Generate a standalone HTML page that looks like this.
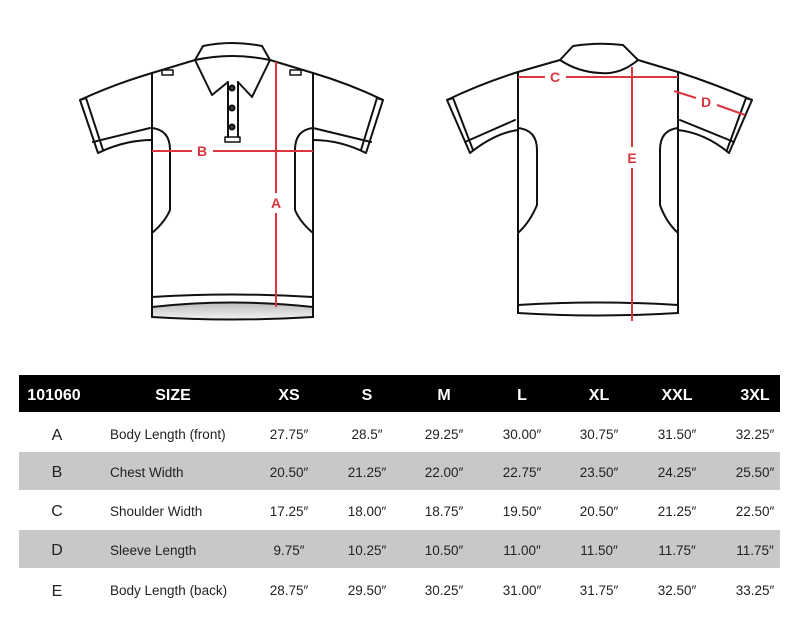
<!DOCTYPE html>
<html><head><style>
html,body{margin:0;padding:0;background:#fff;}
body{width:812px;height:636px;position:relative;overflow:hidden;font-family:"Liberation Sans",sans-serif;}
svg{position:absolute;left:0;top:0;}
</style></head><body>
<svg width="812" height="636" viewBox="0 0 812 636">
<defs><linearGradient id="g" x1="0" y1="0" x2="0" y2="1"><stop offset="0" stop-color="#bbb"/><stop offset="1" stop-color="#f4f4f4"/></linearGradient></defs>
<g fill="none" stroke="#111" stroke-width="2" stroke-linejoin="round" stroke-linecap="round">
<!-- FRONT -->
<path d="M152,307 Q232,298 313,307 L313,317 Q232,322 152,317 Z" fill="url(#g)"/>
<path d="M152,297 Q232,292 313,297"/>
<path d="M195,60 L152,73 Q115,84 80,100 L98,153 Q125,140 152,140 L152,317"/>
<path d="M270,60 L313,73 Q350,84 383,100 L366,153 Q340,140 313,140 L313,317"/>
<path d="M80,100 L86,98 L103,150"/><path d="M383,100 L377,98 L361,150"/>
<path d="M93,142 L150,128"/><path d="M371,142 L313,128"/>
<path d="M152,73 L152,140"/><path d="M313,73 L313,140"/>
<path d="M152,128 Q170,130 170,150 L170,210 Q165,222 152,233"/>
<path d="M313,128 Q295,130 295,150 L295,210 Q300,222 313,233"/>
<path d="M195,60 L203,46 Q232,40 262,46 L270,60 Q232,52 195,60 Z"/>
<path d="M195,60 L212,95 L228,82"/><path d="M270,60 L252,97 L238,82"/>
<path d="M228,82 L228,137 M238,82 L238,137"/>
<rect x="225" y="137" width="15" height="5" stroke-width="1.5"/>
<rect x="162" y="70" width="11" height="5" stroke-width="1.5"/>
<rect x="290" y="70" width="11" height="5" stroke-width="1.5"/>
<!-- BACK -->
<path d="M518,305 Q598,300 678,305 L678,313 Q598,318 518,313 Z"/>
<path d="M560,60 L518,72 Q480,84 447,100 L470,153 Q495,133 518,130 L518,313"/>
<path d="M638,60 L678,72 Q715,84 752,100 L729,153 Q705,133 678,130 L678,313"/>
<path d="M447,100 L453,98 L473,150"/><path d="M752,100 L746,98 L727,150"/>
<path d="M465,142 L515,120"/><path d="M734,142 L680,120"/>
<path d="M518,72 L518,130"/><path d="M678,72 L678,130"/>
<path d="M518,128 Q537,130 537,150 L537,205 Q530,222 518,233"/>
<path d="M678,128 Q660,130 660,150 L660,205 Q666,222 678,233"/>
<path d="M560,60 L573,46 Q598,42 623,45 L638,60 Q620,75 600,73 Q578,72 560,60 Z"/>
<circle cx="232" cy="88" r="2.5" fill="#444"/><circle cx="232" cy="108" r="2.5" fill="#444"/><circle cx="232" cy="127" r="2.5" fill="#444"/>
</g>
<g stroke="#d9363e" stroke-width="2" fill="none">
<path d="M152,151 L192,151 M213,151 L313,151"/>
<path d="M276,62 L276,193 M276,213 L276,307"/>
<path d="M518,77 L545,77 M566,77 L678,77"/>
<path d="M632,67 L632,147 M632,168 L632,321"/>
<path d="M674,91 L696,98 M717,105 L745,115"/>
</g>
<g fill="#d9363e" font-weight="bold" font-size="14" text-anchor="middle" font-family="Liberation Sans,sans-serif">
<text x="202" y="156">B</text><text x="276" y="208">A</text>
<text x="555" y="82">C</text><text x="632" y="163">E</text><text x="706" y="107">D</text>
</g>
<!-- TABLE -->
<rect x="19" y="375" width="761" height="37" fill="#000"/>
<rect x="19" y="452" width="761" height="38" fill="#c8c8c9"/>
<rect x="19" y="530" width="761" height="38" fill="#c8c8c9"/>
<g fill="#fff" font-weight="bold" font-size="16" text-anchor="middle">
<text x="54" y="400">101060</text><text x="173" y="400">SIZE</text>
<text x="289" y="400">XS</text><text x="367" y="400">S</text><text x="444" y="400">M</text><text x="522" y="400">L</text><text x="599" y="400">XL</text><text x="677" y="400">XXL</text><text x="755" y="400">3XL</text>
</g>
<g fill="#222" font-size="16" text-anchor="middle">
<text x="57" y="440">A</text><text x="57" y="477">B</text><text x="57" y="516">C</text><text x="57" y="555">D</text><text x="57" y="596">E</text>
</g>
<g fill="#222" font-size="13.5">
<text x="110" y="439">Body Length (front)</text><text x="110" y="477">Chest Width</text><text x="110" y="516">Shoulder Width</text><text x="110" y="555">Sleeve Length</text><text x="110" y="595">Body Length (back)</text>
</g>
<g fill="#222" font-size="13.5" text-anchor="middle">
<text x="289" y="439">27.75″</text><text x="367" y="439">28.5″</text><text x="444" y="439">29.25″</text><text x="522" y="439">30.00″</text><text x="599" y="439">30.75″</text><text x="677" y="439">31.50″</text><text x="755" y="439">32.25″</text>
<text x="289" y="477">20.50″</text><text x="367" y="477">21.25″</text><text x="444" y="477">22.00″</text><text x="522" y="477">22.75″</text><text x="599" y="477">23.50″</text><text x="677" y="477">24.25″</text><text x="755" y="477">25.50″</text>
<text x="289" y="516">17.25″</text><text x="367" y="516">18.00″</text><text x="444" y="516">18.75″</text><text x="522" y="516">19.50″</text><text x="599" y="516">20.50″</text><text x="677" y="516">21.25″</text><text x="755" y="516">22.50″</text>
<text x="289" y="555">9.75″</text><text x="367" y="555">10.25″</text><text x="444" y="555">10.50″</text><text x="522" y="555">11.00″</text><text x="599" y="555">11.50″</text><text x="677" y="555">11.75″</text><text x="755" y="555">11.75″</text>
<text x="289" y="595">28.75″</text><text x="367" y="595">29.50″</text><text x="444" y="595">30.25″</text><text x="522" y="595">31.00″</text><text x="599" y="595">31.75″</text><text x="677" y="595">32.50″</text><text x="755" y="595">33.25″</text>
</g>
</svg>
</body></html>
